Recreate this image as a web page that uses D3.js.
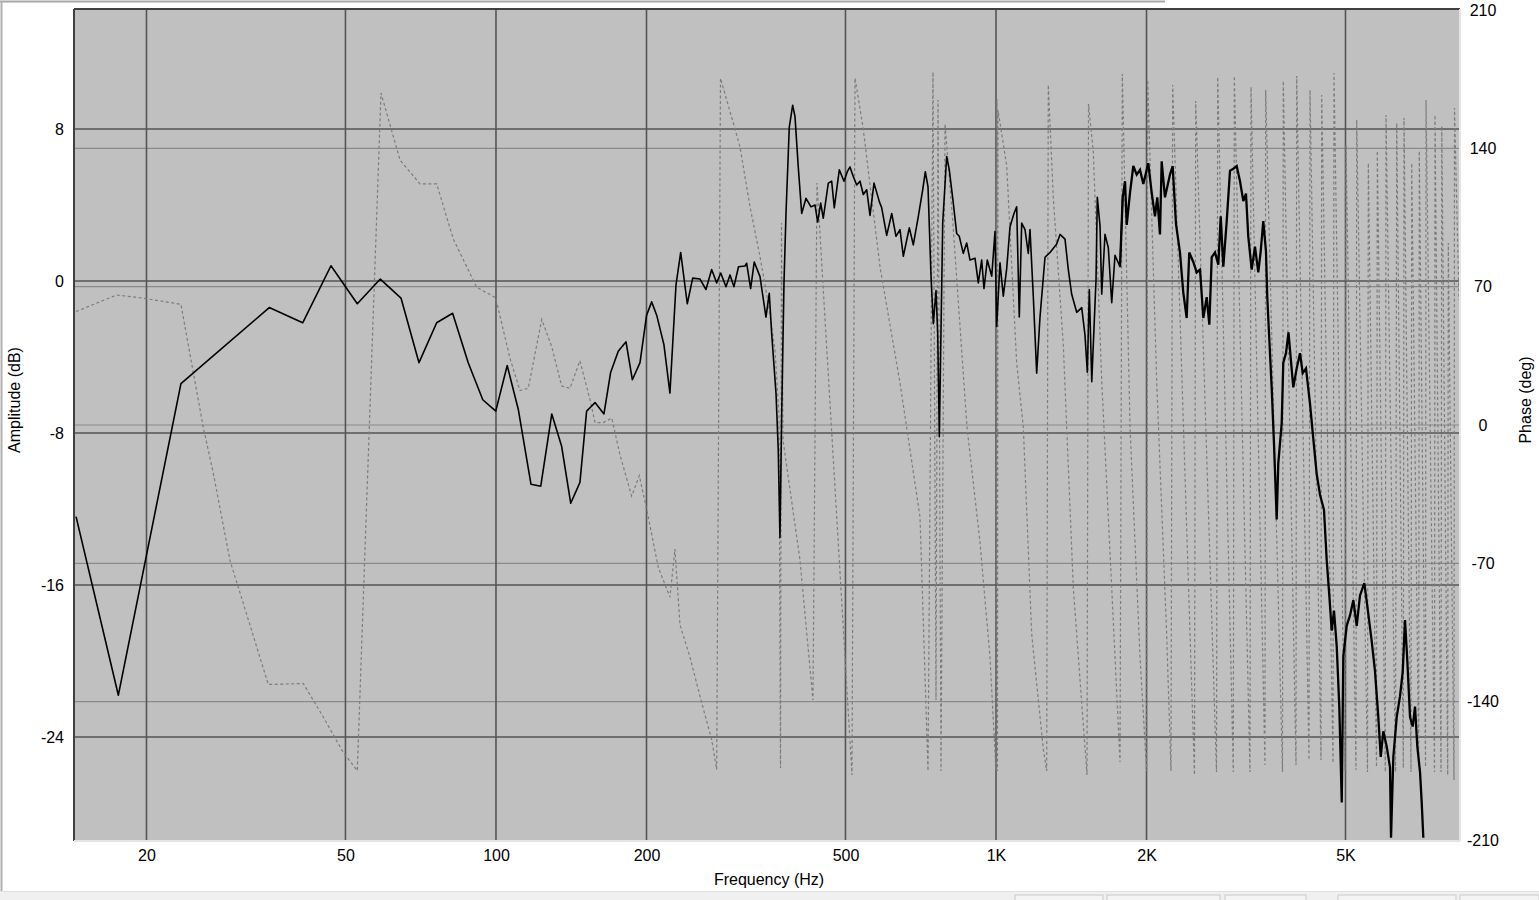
<!DOCTYPE html>
<html>
<head>
<meta charset="utf-8">
<script src="https://cdn.jsdelivr.net/npm/d3@7/dist/d3.min.js"></script>
<style>
html,body{margin:0;padding:0;background:#fff;}
svg{display:block;}
text{font-family:"Liberation Sans",Arial,sans-serif;fill:#000;}
</style>
</head>
<body>
<svg id="chart" width="1539" height="900"></svg>
<script>
// ---- data ----
const freqTicks = [20, 50, 100, 200, 500, 1000, 2000, 5000];
const freqTickLabels = ["20", "50", "100", "200", "500", "1K", "2K", "5K"];
const ampTicks = [8, 0, -8, -16, -24];
const phaseTicks = [210, 140, 70, 0, -70, -140, -210];

const ampFreq = [14.46,17.57,23.44,35.2,41.06,46.77,52.8,58.7,64.57,70.15,76.1,81.9,88.0,94.1,99.9,105.3,110.8,117.5,122.9,129.3,135.3,141.1,147.2,151.8,157.8,164.4,169.6,175.6,182.0,187.4,194.1,200.1,204.8,209.6,216.7,222.8,229.1,234.1,241.3,247.4,255.9,263.0,270.0,276.3,281.5,288.4,293.8,299.2,305.5,314.8,317.2,323.1,328.5,337.3,346.7,352.0,355.9,363.1,366.9,369.8,372.7,376.7,380.2,386.0,392.1,396.3,402.3,408.7,416.9,426.6,434.5,439.9,446.1,451.4,462.0,469.2,474.9,486.0,496.6,504.2,510.5,518.3,526.5,534.6,542.8,551.3,559.8,570.2,584.8,590.8,604.5,618.7,631,642.7,652.6,670.9,683.3,699.3,713.5,722.2,731.2,741.4,749.3,758.6,764.6,770.3,775.2,782.4,796.9,806.5,821.5,834.4,844.5,860.1,873.7,887.2,907.8,921.7,936.2,946.2,960.7,980.6,995.4,1003.2,1018.6,1034.2,1050.5,1066.6,1086.4,1099.9,1113.2,1125.6,1142.9,1160.4,1169.5,1187.4,1206.1,1224.6,1253.2,1282.4,1322.6,1342.8,1374.1,1395.2,1417.1,1450.2,1484,1506.6,1522.8,1536.9,1554.2,1565.4,1585,1594.5,1614.5,1627.2,1652,1677.4,1703.9,1729.9,1770.3,1792.3,1811.5,1825.8,1853.7,1882,1911.7,1941,1970.8,2016.1,2048.1,2079.4,2101.7,2127.9,2144.6,2177.3,2228.2,2256,2290.7,2333.2,2368.9,2406.2,2435.3,2480.6,2520,2558.7,2597.9,2638.9,2670.8,2700.4,2741.6,2783.8,2814.7,2848.6,2893.6,2937.8,2982.7,3029.7,3076.2,3123.4,3162,3195.5,3246.1,3295.8,3346.3,3383.3,3424.1,3467.1,3487.7,3531.6,3559.1,3597.1,3642.3,3669.2,3727,3754.6,3801.7,3845.6,3884.8,3931.6,3993.7,4055,4106,4168.5,4246.1,4311,4378.7,4446.4,4528.8,4585.7,4641,4692.4,4742.2,4801.5,4859.6,4914.5,4950,5028,5105.2,5183.4,5265.1,5345.8,5452.6,5528.2,5641.5,5728.2,5815.9,5880.6,5951.2,6045,6137.7,6166.3,6232,6330.2,6427.4,6508.1,6576.9,6647.6,6730.2,6814.8,6886.7,6960,7047.6,7102.5,7155.5];
const ampDb = [-12.4,-21.8,-5.4,-1.4,-2.2,0.8,-1.2,0.1,-0.9,-4.3,-2.2,-1.7,-4.3,-6.25,-6.85,-4.45,-6.75,-10.7,-10.8,-7.0,-8.7,-11.7,-10.6,-6.85,-6.4,-7.0,-4.8,-3.7,-3.2,-5.2,-4.3,-1.8,-1.1,-1.8,-3.35,-5.9,-0.2,1.5,-1.2,0.15,0.1,-0.45,0.6,-0.1,0.42,-0.3,0.32,-0.3,0.75,0.79,0.93,-0.4,1.0,0.23,-1.9,-0.65,-2.75,-5.9,-8.9,-13.5,-7.1,-0.1,3.55,8.1,9.25,8.65,6.0,3.55,4.35,3.9,4.0,3.1,4.1,3.3,5.15,5.25,3.85,5.85,5.25,5.75,6.0,5.5,5.05,5.25,4.55,4.8,3.45,5.15,4.15,3.85,2.4,3.55,2.35,2.7,1.3,2.8,1.9,3.4,4.8,5.75,4.95,0.25,-2.25,-0.5,-2.75,-8.2,-3.6,3.05,6.55,5.85,4.1,2.5,2.35,1.45,2.0,1.1,1.2,-0.1,1.1,-0.4,1.1,0.25,2.6,-2.4,0.95,-0.8,0.65,2.85,3.55,3.9,-1.9,3.05,2.7,1.45,2.7,-0.8,-4.85,-1.9,1.25,1.5,1.95,2.45,2.2,0.6,-0.7,-1.65,-1.4,-2.85,-4.8,-0.45,-5.3,-3.35,0.05,4.4,2.9,-0.7,2.45,1.75,-1.15,1.35,0.75,4.4,5.25,2.95,4.65,6.05,5.6,5.85,5.1,6.2,4.65,3.4,4.4,2.45,6.3,4.4,5.6,6.05,3.0,1.5,-0.6,-1.95,1.5,1.0,0.45,0.6,-1.95,-0.85,-2.3,1.25,1.5,0.85,3.4,0.75,3.15,5.8,5.9,6.05,5.25,4.2,4.6,2.35,0.6,1.8,0.45,1.55,3.15,1.55,-0.85,-3.8,-5.6,-8.55,-12.55,-9.6,-7.5,-4.3,-3.8,-2.7,-4.05,-5.6,-4.6,-3.8,-4.85,-4.6,-6.45,-8.3,-10.15,-11.25,-12.05,-14.7,-16.55,-18.4,-17.35,-19.2,-22.4,-27.45,-19.75,-18.15,-17.6,-16.8,-18.15,-16.55,-15.9,-17.1,-18.95,-20.55,-22.95,-25.05,-23.7,-24.5,-25.6,-29.3,-25.05,-22.95,-21.85,-20.55,-17.85,-20.0,-22.95,-23.45,-22.4,-24.5,-25.85,-27.45,-29.3];

const phaseFreq = [14.46,17.43,19.41,23.44,24.43,25.98,27.2,29.38,32.21,35.04,41.17,45.08,49.5,52.8,58.89,64.27,70.48,76.1,82.15,91.5,99.86,106.66,111.69,116.04,123.45,129.3,135.3,140.6,147.2,154.2,157.8,163.9,170.4,177.0,186.8,193.5,201.6,211.1,222.8,228.0,233.3,244.3,257.9,270.0,276.3,281.2,298.3,307.6,322.1,337.3,350.4,361.4,368.1,370.7,372.4,375.0,405.5,430.5,438.5,515.2,522.4,542.0,586.2,642.7,704.8,731.2,748.2,758.6,765.7,776.3,790.8,820.4,874.9,928.9,972.7,1000,1004.6,1006.9,1009.3,1050.5,1099.9,1134,1178.7,1243.4,1263,1272.3,1302.1,1363.4,1427.7,1484,1520.6,1531.2,1565.4,1627.2,1703.9,1770.3,1789,1853.7,1941,2001.4,2010.8,2095.7,2194.3,2238.4,2256,2494.4,2508.3,2760.7,2775.8,2982.7,2996.6,3220.8,3235.7,3451,3462.1,3741,3754.6,3981,3993.7,4226.6,4246.1,4466.7,4481,4720.7,4742.2,4989,5012,5248,5265.1,5533.3,5554.3,5767.8,5788.9,6006.4,6025.9,6295.6,6330.2,6525.8,6546.6,6761.2,6783.3,7005.4,7024.3,7228.1,7245.1,7534.1,7551.2,7763.2,7789.7,8005.7,8027.2,8240.9,8260,8433];
const phaseDeg = [57.4,65.8,64.4,61.1,35.9,-1.2,-24.3,-68.6,-101.2,-131.3,-130.8,-147.5,-165.7,-174.9,168.0,134.1,122,122,94.1,69.7,64.4,33.7,17.4,18.6,53.4,39.5,19.7,18.6,32.5,12.8,1.2,1.2,3.5,-15.1,-36,-25.6,-46.5,-72,-87.1,-62.8,-101,-117.4,-140.6,-159.2,-174.3,175.4,152.8,140.7,110.5,85.2,61.6,38,5.1,-173.6,102.2,-7.6,-68.3,-139.2,122.5,-177.1,175.6,150.8,80.0,21.3,-46.6,-175.1,178.6,-139.2,164.5,-175.1,152.3,101.2,-1.0,-59.2,-117.4,-175.1,165.0,-175.1,159.4,131.3,31.4,-1.0,-105.8,-164.0,-175.1,172.1,114.9,40.5,-82.5,-140.7,-177.1,162.4,138.2,22.3,-82.5,-170.5,177.6,-1.0,-117.4,-175.1,174.6,22.3,-105.8,-175.1,172.1,-177.1,164.0,-175.6,176.1,-175.6,176.6,-175.6,171.1,-172.1,169.5,-175.6,174.1,-172.1,176.6,-169.5,169.5,-169.5,167.0,-171.1,178.1,-174.6,141.7,-174.6,154.4,-175.6,132.6,-173.1,138.7,-175.6,156.9,-175.6,152.8,-173.6,155.4,-175.6,132.6,-173.1,138.7,-173.1,164.5,-175.6,156.9,-175.6,151.3,-177.1,92.1,-179.7,160.4,63.3];

// ---- layout ----
const svg = d3.select("#chart");
const L = 75, R = 1459, T = 10, B = 840;

const x = d3.scaleLog().domain([14.39, 8433]).range([L, R]);
const yA = d3.scaleLinear().domain([-29.42, 14.26]).range([B, T]);
const yP = d3.scaleLinear().domain([-210, 210]).range([B, T]);
const intFmt = d => String(Math.round(d)); // plain hyphen minus as in the reference

// outer window decorations
svg.append("rect").attr("x",0).attr("y",0).attr("width",1539).attr("height",900).attr("fill","#fff");
svg.append("line").attr("x1",0).attr("x2",1165).attr("y1",1.5).attr("y2",1.5).attr("stroke","#a8a8a8").attr("stroke-width",2);
svg.append("line").attr("x1",1.5).attr("x2",1.5).attr("y1",1).attr("y2",891).attr("stroke","#b0b0b0").attr("stroke-width",2);
svg.append("rect").attr("x",0).attr("y",891).attr("width",1539).attr("height",9).attr("fill","#f0f0f0");
svg.append("line").attr("x1",0).attr("x2",1539).attr("y1",891.5).attr("y2",891.5).attr("stroke","#e0e0e0");
[[1015,1103],[1107,1220],[1225,1306],[1338,1456],[1460,1539]].forEach(b => {
  svg.append("rect").attr("x",b[0]).attr("y",895).attr("width",b[1]-b[0]).attr("height",8)
    .attr("fill","#f4f4f4").attr("stroke","#c8c8c8");
});

// plot background
svg.append("rect").attr("x",L).attr("y",T).attr("width",R-L).attr("height",B-T).attr("fill","#c0c0c0");

svg.append("defs").append("clipPath").attr("id","clip")
  .append("rect").attr("x",L).attr("y",T).attr("width",R-L).attr("height",B-T);

// phase grid (light)
svg.append("g").selectAll("line").data(phaseTicks.filter(d => Math.abs(d) < 210)).join("line")
  .attr("x1",L).attr("x2",R).attr("y1",d=>yP(d)).attr("y2",d=>yP(d))
  .attr("stroke","#8a8a8a").attr("stroke-width",1.2);
// amplitude grid (dark)
svg.append("g").selectAll("line").data(ampTicks).join("line")
  .attr("x1",L).attr("x2",R).attr("y1",d=>yA(d)).attr("y2",d=>yA(d))
  .attr("stroke","#555").attr("stroke-width",1.6);
// vertical grid
svg.append("g").selectAll("line").data(freqTicks).join("line")
  .attr("x1",d=>x(d)).attr("x2",d=>x(d)).attr("y1",T).attr("y2",B)
  .attr("stroke","#555").attr("stroke-width",1.6);

// phase curve (dashed gray)
const phasePts = phaseFreq.map((f,i)=>[f, phaseDeg[i]]);
svg.append("path").attr("clip-path","url(#clip)")
  .attr("d", d3.line().x(d=>x(d[0])).y(d=>yP(d[1]))(phasePts))
  .attr("fill","none").attr("stroke","#7c7c7c").attr("stroke-width",1.2)
  .attr("stroke-dasharray","3,2.5");

// amplitude curve (black); the dense upper band is drawn heavier, as in the reference
const ampPts = ampFreq.map((f,i)=>[f, ampDb[i]]);
const ampLine = d3.line().x(d=>x(d[0])).y(d=>yA(d[1]));
svg.append("path").attr("clip-path","url(#clip)")
  .attr("d", ampLine(ampPts.filter(d => d[0] <= 1800)))
  .attr("fill","none").attr("stroke","#000").attr("stroke-width",1.6)
  .attr("stroke-linejoin","round");
svg.append("path").attr("clip-path","url(#clip)")
  .attr("d", ampLine(ampPts.filter(d => d[0] >= 1770)))
  .attr("fill","none").attr("stroke","#000").attr("stroke-width",2.3)
  .attr("stroke-linejoin","miter");

// frame (inset look)
svg.append("line").attr("x1",L-1).attr("x2",L-1).attr("y1",T-1).attr("y2",B+1).attr("stroke","#404040").attr("stroke-width",2);
svg.append("line").attr("x1",L-1).attr("x2",R+1).attr("y1",T-1).attr("y2",T-1).attr("stroke","#404040").attr("stroke-width",2);
svg.append("line").attr("x1",R+1).attr("x2",R+1).attr("y1",T-1).attr("y2",B+1).attr("stroke","#e4e4e4").attr("stroke-width",2);
svg.append("line").attr("x1",L-1).attr("x2",R+1).attr("y1",B+1).attr("y2",B+1).attr("stroke","#e4e4e4").attr("stroke-width",2);

// axes labels via d3 axes (domain & ticks hidden, labels kept)
const fs = "16px";
const xAxis = d3.axisBottom(x).tickValues(freqTicks).tickFormat((d,i)=>freqTickLabels[i]).tickSize(0).tickPadding(0);
const gx = svg.append("g").attr("transform",`translate(0,${B+10})`).call(xAxis);
gx.select(".domain").remove();
gx.selectAll("text").attr("font-size",fs).attr("font-family","Liberation Sans, Arial, sans-serif").attr("fill","#000").attr("dy","0.71em");

const yAxisL = d3.axisLeft(yA).tickValues(ampTicks).tickFormat(intFmt).tickSize(0).tickPadding(0);
const gl = svg.append("g").attr("transform",`translate(${L-11},0)`).call(yAxisL);
gl.select(".domain").remove();
gl.selectAll("text").attr("font-size",fs).attr("font-family","Liberation Sans, Arial, sans-serif").attr("fill","#000");

const yAxisR = d3.axisRight(yP).tickValues(phaseTicks).tickFormat(intFmt).tickSize(0).tickPadding(0);
const gr = svg.append("g").attr("transform",`translate(1483,0)`).call(yAxisR);
gr.select(".domain").remove();
gr.selectAll("text").attr("font-size",fs).attr("font-family","Liberation Sans, Arial, sans-serif").attr("fill","#000").attr("text-anchor","middle");

// axis titles
svg.append("text").attr("x",769).attr("y",885).attr("text-anchor","middle").attr("font-size",fs).text("Frequency (Hz)");
svg.append("text").attr("transform","translate(20,400) rotate(-90)").attr("text-anchor","middle").attr("font-size",fs).text("Amplitude (dB)");
svg.append("text").attr("transform","translate(1531,400) rotate(-90)").attr("text-anchor","middle").attr("font-size",fs).text("Phase (deg)");
</script>
</body>
</html>
